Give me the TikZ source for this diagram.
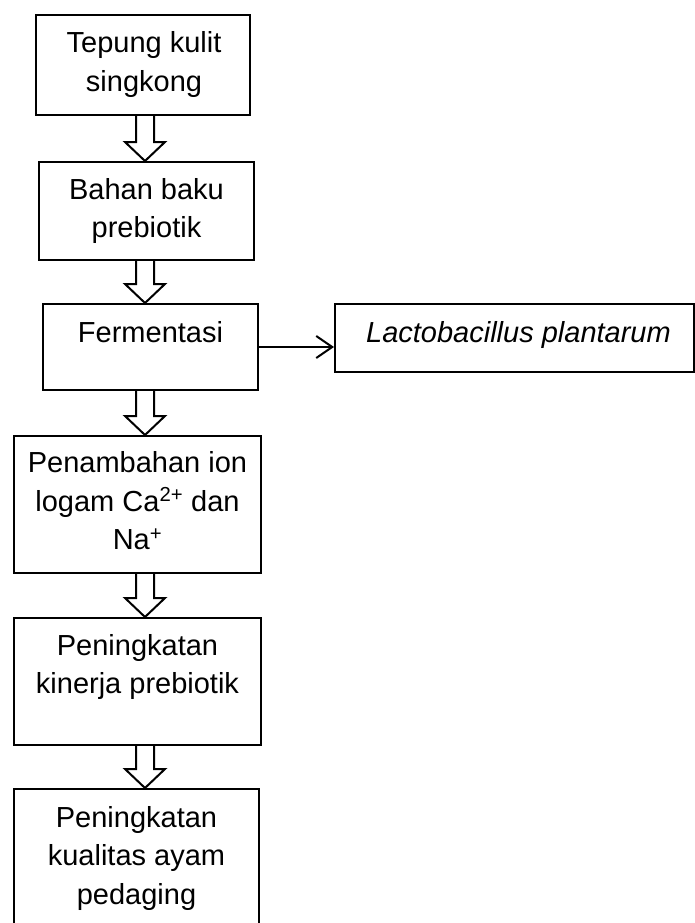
\documentclass[tikz,border=0pt]{standalone}
\usepackage{fontspec}
\setmainfont{Liberation Sans}
\usetikzlibrary{arrows.meta,calc}
\tikzset{
  box/.style={draw, line width=2pt, inner sep=0pt, anchor=north west},
  txt/.style={anchor=base, inner sep=0pt, font=\fontsize{29}{38.5}\selectfont},
  barrow/.style={draw, line width=2pt, line join=miter},
}
\newcommand{\mylines}[1]{\begin{tabular}[t]{@{}c@{}}#1\end{tabular}}
\newcommand{\blockarrow}[2]{%
  \draw[barrow] let \p1=(#1.south), \p2=(#2.north) in
    (136pt,\y1) -- (136pt,\y2+19pt) -- (125pt,\y2+19pt) -- (145pt,\y2)
    -- (165pt,\y2+19pt) -- (154pt,\y2+19pt) -- (154pt,\y1);}
\begin{document}
\begin{tikzpicture}[x=1pt,y=-1pt]
\clip (0,0) rectangle (695,923);
\fill[white] (0,0) rectangle (695,923);
\node[box, minimum width=214pt, minimum height=100pt] (b1) at (35,14) {};
\node[box, minimum width=215pt, minimum height=98pt] (b2) at (38,161) {};
\node[box, minimum width=215pt, minimum height=86pt] (b3) at (42,303) {};
\node[box, minimum width=359pt, minimum height=68pt] (rb) at (334,303) {};
\node[box, minimum width=247pt, minimum height=137pt] (b4) at (13,435) {};
\node[box, minimum width=247pt, minimum height=127pt] (b5) at (13,617) {};
\node[box, minimum width=245pt, minimum height=150pt] (b6) at (13,788) {};

\node[txt] (t1) at ($(b1.north)+(1,39)$) {\mylines{Tepung kulit\\singkong}};
\node[txt] (t2) at ($(b2.north)+(0,38)$) {\mylines{Bahan baku\\prebiotik}};
\node[txt] (t3) at ($(b3.north)+(0,39)$) {\mylines{Fermentasi}};
\node[txt] (tr) at ($(rb.north)+(4,39)$) {\mylines{\itshape Lactobacillus plantarum}};
\node[txt] (t4) at ($(b4.north)+(0,37.5)$) {\mylines{Penambahan ion\\logam Ca\textsuperscript{2+} dan\\Na\textsuperscript{+}}};
\node[txt] (t5) at ($(b5.north)+(0,38)$) {\mylines{Peningkatan\\kinerja prebiotik}};
\node[txt] (t6) at ($(b6.north)+(0,39)$) {\mylines{Peningkatan\\kualitas ayam\\pedaging}};

\blockarrow{b1}{b2}
\blockarrow{b2}{b3}
\blockarrow{b3}{b4}
\blockarrow{b4}{b5}
\blockarrow{b5}{b6}

\draw[line width=2pt, -{Straight Barb[length=16pt,width=22pt]}] (b3.east) -- (b3.east -| rb.west);
\end{tikzpicture}
\end{document}
